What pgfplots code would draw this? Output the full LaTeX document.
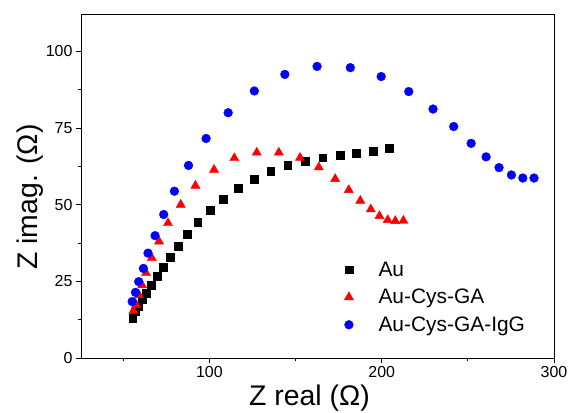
\documentclass[border=0pt]{standalone}
\usepackage{fontspec}
\setmainfont{Liberation Sans}
\usepackage{pgfplots}
\pgfplotsset{compat=1.18}

\begin{document}
\begin{tikzpicture}
\begin{axis}[
  scale only axis,
  width=473bp, height=344bp,
  xmin=25.5, xmax=300,
  ymin=0, ymax=112.2,
  xtick={100,200,300},
  minor xtick={50,150,250},
  ytick={0,25,50,75,100},
  minor ytick={12.5,37.5,62.5,87.5},
  tick pos=left,
  tick align=outside,
  major tick length=5bp,
  minor tick length=3bp,
  every tick/.style={black, line width=0.8pt},
  axis line style={line width=0.8pt},
  /pgf/number format/assume math mode=true,
  tick label style={font=\fontsize{16}{18}\selectfont},
  xlabel={Z real (Ω)},
  ylabel={Z imag. (Ω)},
  label style={font=\fontsize{28.5}{30}\selectfont},
  xlabel style={yshift=-0.5bp, xshift=-8bp},
  ylabel style={yshift=-4bp, xshift=-11bp},
  legend style={draw=none, fill=none, at={(0.55,0.292)}, anchor=north west,
    font=\fontsize{21}{24}\selectfont, row sep=7.5bp,
    /tikz/every odd column/.append style={column sep=23bp},
    cells={anchor=west}},
  legend cell align=left,
]
\addplot[only marks, mark=square*, mark size=3.9bp, black] coordinates {
(55.5,12.9) (56.9,15.1) (58.8,16.7) (61,19) (63.4,21.2) (66.3,23.7)
(69.6,26.6) (73.3,29.7) (77.4,32.9) (81.8,36.5) (86.9,40.3) (93.2,44.3)
(100.4,48.3) (108.1,51.9) (116.8,55.5) (126,58.4) (135.6,60.9) (145.5,62.9)
(155.7,64.2) (165.8,65.3) (175.7,66.1) (185.4,66.8) (195.0,67.5) (204.5,68.4)
};
\addlegendentry{Au}
\addplot[only marks, mark=triangle*, mark size=5.3bp, red] coordinates {
(55.9,15.4) (57.5,17.4) (59.2,20.5) (61,23.7) (63.3,27.7) (66.6,32.6)
(70.8,38) (76,44) (83.4,50) (91.9,56.2) (102.7,61.4) (114.5,65.2)
(127.5,67) (140.3,67) (152.6,65.3) (163.5,62.2) (173,58.4) (180.9,54.8)
(187.6,51.3) (193.7,48.5) (198.7,46.3) (203.5,45) (207.9,44.7) (212.6,44.8)
};
\addlegendentry{Au-Cys-GA}
\addplot[only marks, mark=*, mark size=4.4bp, blue] coordinates {
(55.2,18.4) (57.1,21.4) (59.0,24.9) (61.7,29.2) (64.4,34.2) (68.5,39.9)
(73.5,46.8) (79.7,54.4) (87.9,62.8) (98.1,71.6) (110.9,80.0) (126.1,87.1)
(143.8,92.5) (162.5,95.1) (181.8,94.7) (199.7,91.8) (215.7,86.9) (229.8,81.2)
(241.8,75.5) (251.9,70.0) (260.6,65.6) (268.1,62.1) (275.3,59.7) (281.9,58.7)
(288.4,58.7)
};
\addlegendentry{Au-Cys-GA-IgG}
\end{axis}
\pgfresetboundingbox
\path (current axis.south west) ++(-81bp,-55bp) rectangle ++(571bp,413bp);
\end{tikzpicture}
\end{document}
